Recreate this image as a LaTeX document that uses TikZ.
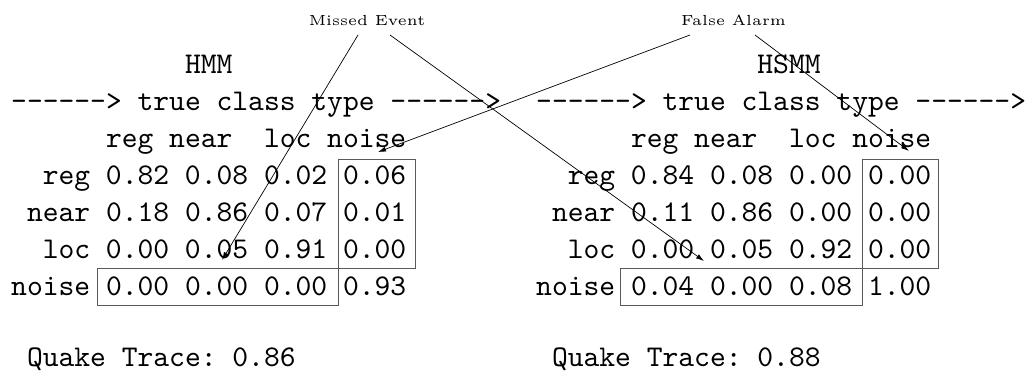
\documentclass[tikz,border=0pt]{standalone}
\usetikzlibrary{arrows.meta}
\newcommand\arrline{-\kern0pt-\kern0pt-\kern0pt-\kern0pt-\kern0pt-\kern0pt>}
\newcommand\smalllbl[1]{\scalebox{2.92}{\fontsize{5}{6}\selectfont #1}}
\newcommand\monotxt[1]{\scalebox{3.01}{\fontsize{10}{12}\selectfont\ttfamily\frenchspacing #1}}
\begin{document}
\begin{tikzpicture}[x=1pt,y=-1pt,
  mono/.style={inner sep=0pt, anchor=base west},
  lbl/.style={inner sep=0pt, anchor=base},
  frame/.style={draw=black!65, line width=1pt},
  pointer/.style={line width=0.7pt, -{Latex[length=8pt,width=5pt]}}]
\useasboundingbox (0,0) rectangle (1025,373);
% left panel
\node[mono] (l-title) at (11,73)  {\monotxt{~~~~~~~~~~~HMM}};
\node[mono] (l-axis)  at (11,110) {\monotxt{\arrline{} true class type \arrline}};
\node[mono] (l-head)  at (11,147) {\monotxt{~~~~~~reg near~~loc noise}};
\node[mono] (l-r1)    at (11,184) {\monotxt{~~reg 0.82 0.08 0.02 0.06}};
\node[mono] (l-r2)    at (11,221) {\monotxt{~near 0.18 0.86 0.07 0.01}};
\node[mono] (l-r3)    at (11,258) {\monotxt{~~loc 0.00 0.05 0.91 0.00}};
\node[mono] (l-r4)    at (11,295) {\monotxt{noise 0.00 0.00 0.00 0.93}};
\node[mono] (l-qt)    at (11,366) {\monotxt{~Quake Trace:~0.86}};
\draw[frame] (338,159) rectangle (415,268);
\draw[frame] (97,268) rectangle (338,305);
% right panel
\node[mono] (r-title) at (536,73)  {\monotxt{~~~~~~~~~~~~~~HSMM}};
\node[mono] (r-axis)  at (536,110) {\monotxt{\arrline{} true class type \arrline}};
\node[mono] (r-head)  at (536,147) {\monotxt{~~~~~~reg near~~loc noise}};
\node[mono] (r-r1)    at (536,184) {\monotxt{~~reg 0.84 0.08 0.00 0.00}};
\node[mono] (r-r2)    at (536,221) {\monotxt{~near 0.11 0.86 0.00 0.00}};
\node[mono] (r-r3)    at (536,258) {\monotxt{~~loc 0.00 0.05 0.92 0.00}};
\node[mono] (r-r4)    at (536,295) {\monotxt{noise 0.04 0.00 0.08 1.00}};
\node[mono] (r-qt)    at (536,366) {\monotxt{~Quake Trace:~0.88}};
\draw[frame] (862,159) rectangle (938,268);
\draw[frame] (620,268) rectangle (862,305);
% labels
\node[lbl] (me) at (367,25) {\smalllbl{Missed Event}};
\node[lbl] (fa) at (733.5,25) {\smalllbl{False Alarm}};
\coordinate (me-a) at (358,35);
\coordinate (me-b) at (390,35);
\coordinate (fa-a) at (690,35);
\coordinate (fa-b) at (755,35);
\coordinate (t-me-l) at (222,260);
\coordinate (t-me-r) at (704,261);
\coordinate (t-fa-l) at (378,152);
\coordinate (t-fa-r) at (909,151);
\draw[pointer] (me-a) -- (t-me-l);
\draw[pointer] (me-b) -- (t-me-r);
\draw[pointer] (fa-a) -- (t-fa-l);
\draw[pointer] (fa-b) -- (t-fa-r);
\end{tikzpicture}
\end{document}
